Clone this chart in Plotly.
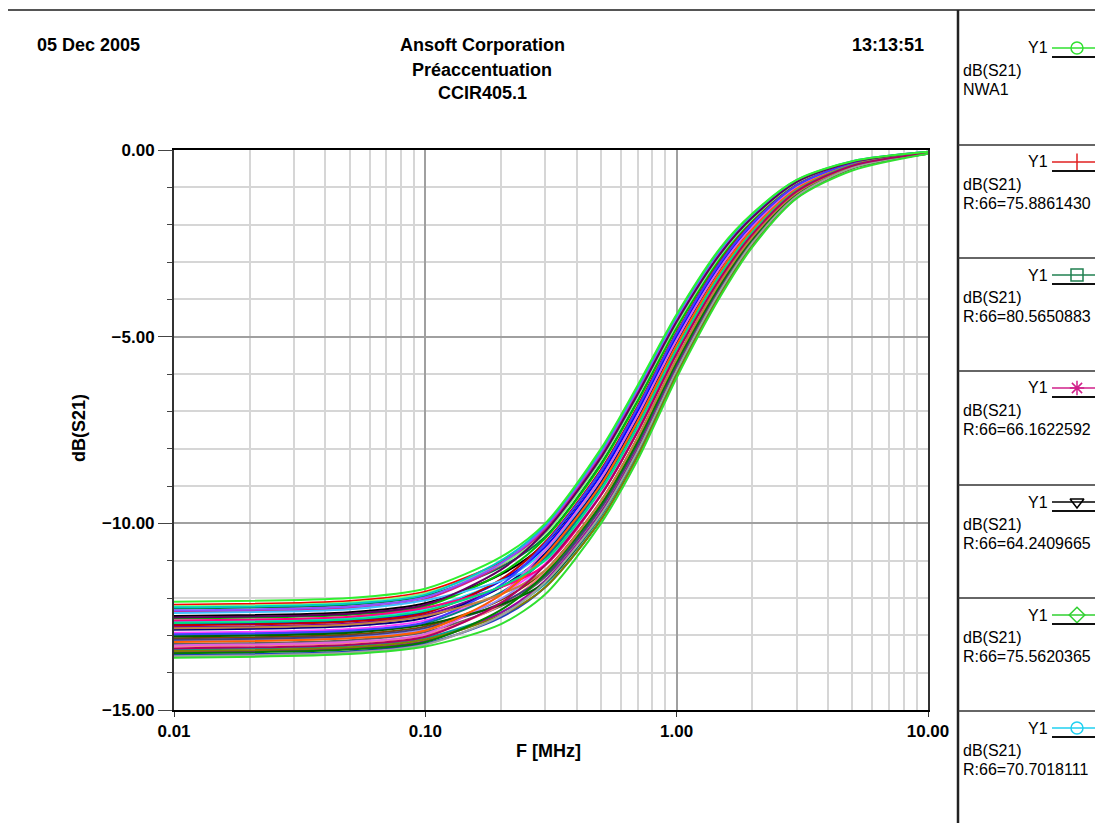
import plotly.graph_objects as go

W, H = 1103, 823
OFF = 8  # the page body margin shifts the figure by this many pixels

# frequency sample points (MHz) shared by every Monte Carlo run
freq_mhz = [0.01, 0.05, 0.1, 0.2, 0.3, 0.5, 0.7, 1.0, 1.5, 2.0, 3.0, 5.0, 10.0]

# dB(S21), one list per run
nwa1 = [-12.10, -12.00, -11.75, -10.90, -10.00, -8.00, -6.30, -4.40, -2.60, -1.70, -0.80, -0.30, -0.05]
run02 = [-13.60, -13.50, -13.30, -12.70, -11.90, -10.00, -8.30, -6.10, -3.90, -2.60, -1.30, -0.55, -0.10]
run03 = [-12.18, -12.08, -11.83, -11.03, -10.18, -8.20, -6.50, -4.57, -2.73, -1.79, -0.85, -0.32, -0.06]
run04 = [-12.28, -12.18, -11.94, -11.17, -10.36, -8.40, -6.70, -4.74, -2.86, -1.88, -0.90, -0.34, -0.06]
run05 = [-12.37, -12.27, -12.03, -11.12, -10.14, -8.16, -6.46, -4.54, -2.70, -1.77, -0.84, -0.32, -0.05]
run06 = [-12.48, -12.38, -12.14, -11.37, -10.54, -8.60, -6.90, -4.91, -2.99, -1.97, -0.95, -0.36, -0.07]
run07 = [-12.55, -12.45, -12.22, -11.34, -10.40, -8.44, -6.74, -4.77, -2.89, -1.90, -0.91, -0.34, -0.06]
run08 = [-12.63, -12.53, -12.29, -11.54, -10.72, -8.80, -7.10, -5.08, -3.12, -2.06, -1.00, -0.38, -0.07]
run09 = [-12.70, -12.60, -12.37, -11.54, -10.63, -8.70, -7.00, -5.00, -3.06, -2.02, -0.98, -0.37, -0.07]
run10 = [-12.78, -12.68, -12.45, -11.71, -10.90, -9.00, -7.30, -5.25, -3.25, -2.15, -1.05, -0.40, -0.08]
run11 = [-12.85, -12.75, -12.53, -11.71, -10.81, -8.90, -7.20, -5.17, -3.19, -2.11, -1.03, -0.39, -0.07]
run12 = [-12.93, -12.83, -12.60, -11.88, -11.08, -9.20, -7.50, -5.42, -3.38, -2.24, -1.10, -0.42, -0.08]
run13 = [-13.00, -12.90, -12.68, -11.85, -10.94, -9.04, -7.34, -5.28, -3.28, -2.17, -1.06, -0.40, -0.08]
run14 = [-13.08, -12.98, -12.76, -12.05, -11.26, -9.40, -7.70, -5.59, -3.51, -2.33, -1.15, -0.44, -0.09]
run15 = [-13.15, -13.05, -12.84, -12.02, -11.12, -9.24, -7.54, -5.45, -3.41, -2.26, -1.11, -0.42, -0.08]
run16 = [-13.23, -13.13, -12.91, -12.22, -11.44, -9.60, -7.90, -5.76, -3.64, -2.42, -1.20, -0.46, -0.09]
run17 = [-13.30, -13.20, -12.99, -12.19, -11.30, -9.44, -7.74, -5.62, -3.54, -2.35, -1.16, -0.44, -0.09]
run18 = [-13.38, -13.28, -13.07, -12.39, -11.62, -9.80, -8.10, -5.93, -3.77, -2.51, -1.25, -0.48, -0.10]
run19 = [-13.45, -13.35, -13.15, -12.39, -11.53, -9.70, -8.00, -5.85, -3.71, -2.47, -1.23, -0.47, -0.09]
run20 = [-13.53, -13.43, -13.22, -12.52, -11.71, -9.90, -8.20, -6.02, -3.84, -2.56, -1.28, -0.49, -0.10]
run21 = [-12.22, -12.12, -11.87, -11.10, -10.27, -8.30, -6.60, -4.66, -2.80, -1.84, -0.88, -0.33, -0.06]
run22 = [-12.73, -12.63, -12.40, -11.50, -10.50, -8.56, -6.86, -4.88, -2.96, -1.95, -0.94, -0.36, -0.06]
run23 = [-13.12, -13.02, -12.80, -12.14, -11.40, -9.56, -7.86, -5.73, -3.61, -2.40, -1.19, -0.46, -0.09]
run24 = [-13.42, -13.32, -13.11, -12.46, -11.71, -9.90, -8.20, -6.02, -3.84, -2.56, -1.28, -0.49, -0.10]
run25 = [-12.40, -12.30, -12.06, -11.54, -10.99, -9.10, -7.40, -5.34, -3.32, -2.20, -1.08, -0.41, -0.08]
run26 = [-13.27, -13.17, -12.96, -11.90, -10.72, -8.80, -7.10, -5.08, -3.12, -2.06, -1.00, -0.38, -0.07]
run27 = [-13.03, -12.93, -12.71, -12.18, -11.58, -9.76, -8.06, -5.90, -3.74, -2.49, -1.24, -0.48, -0.09]
run28 = [-12.33, -12.23, -11.98, -11.07, -10.09, -8.10, -6.40, -4.49, -2.67, -1.75, -0.83, -0.31, -0.05]
run29 = [-12.25, -12.15, -11.91, -11.00, -10.04, -8.04, -6.34, -4.43, -2.63, -1.72, -0.81, -0.30, -0.05]
run30 = [-12.60, -12.50, -12.26, -11.71, -11.12, -9.24, -7.54, -5.45, -3.41, -2.26, -1.11, -0.42, -0.08]
run31 = [-12.97, -12.87, -12.65, -11.65, -10.54, -8.60, -6.90, -4.91, -2.99, -1.97, -0.95, -0.36, -0.07]
run32 = [-13.48, -13.38, -13.18, -12.32, -11.35, -9.50, -7.80, -5.68, -3.58, -2.38, -1.18, -0.45, -0.09]
run33 = [-12.81, -12.71, -12.48, -11.90, -11.26, -9.40, -7.70, -5.59, -3.51, -2.33, -1.15, -0.44, -0.09]
run34 = [-13.18, -13.08, -12.87, -11.92, -10.86, -8.96, -7.26, -5.22, -3.22, -2.13, -1.04, -0.40, -0.07]
run35 = [-12.52, -12.42, -12.18, -11.24, -10.22, -8.24, -6.54, -4.60, -2.76, -1.81, -0.86, -0.32, -0.06]
run36 = [-13.56, -13.46, -13.25, -12.47, -11.58, -9.76, -8.06, -5.90, -3.74, -2.49, -1.24, -0.48, -0.09]
run37 = [-12.67, -12.57, -12.34, -11.69, -10.99, -9.10, -7.40, -5.34, -3.32, -2.20, -1.08, -0.41, -0.08]
run38 = [-13.35, -13.25, -13.04, -12.13, -11.12, -9.24, -7.54, -5.45, -3.41, -2.26, -1.11, -0.42, -0.08]

# the two green envelope runs go last so they sit on top, as in the picture
runs = [run03, run04, run05, run06, run07, run08, run09, run10, run11, run12,
        run13, run14, run15, run16, run17, run18, run19, run20, run21, run22,
        run23, run24, run25, run26, run27, run28, run29, run30, run31, run32,
        run33, run34, run35, run36, run37, run38, run02, nwa1]

run_colors = ["#ff0000", "#008040", "#d0208a", "#000000", "#00c000", "#20d8f0",
              "#0000ff", "#8000a0", "#000080", "#ff40ff", "#008080", "#804000",
              "#9090ff", "#606060", "#ff8080", "#00a0a0", "#a000a0", "#2040c0",
              "#80ff80", "#c00000", "#404080", "#808000", "#40c0ff", "#e060e0",
              "#006000", "#9050ff", "#00c8c8", "#ff0080", "#4040ff", "#008000",
              "#c08040", "#ff6000", "#600060", "#a0a0a0", "#00e080", "#b00060",
              "#30e030", "#30f030"]

# legend panel on the right (labels as far as the panel shows them)
legend_labels = ["NWA1", "R:66=75.8861430", "R:66=80.5650883", "R:66=66.1622592",
                 "R:66=64.2409665", "R:66=75.5620365", "R:66=70.7018111"]
legend_colors = ["#30e030", "#e02020", "#208050", "#d0208a", "#000000", "#30d030", "#20d0f0"]
legend_symbols = ["circle-open", "line-ns-open", "square-open", "asterisk-open",
                  "triangle-down-open", "diamond-open", "circle-open"]

x_ticks = [0.01, 0.1, 1, 10]
x_ticktext = ["0.01", "0.10", "1.00", "10.00"]
x_minor = [0.02, 0.03, 0.04, 0.05, 0.06, 0.07, 0.08, 0.09,
           0.2, 0.3, 0.4, 0.5, 0.6, 0.7, 0.8, 0.9,
           2, 3, 4, 5, 6, 7, 8, 9]


def px(x):
    return (x - OFF) / W


def py(y):
    return 1 - (y - OFF) / H


SANS = "Liberation Sans, Arial"

fig = go.Figure()

for vals, col in zip(runs, run_colors):
    fig.add_trace(go.Scatter(
        x=freq_mhz, y=vals, mode="lines",
        line=dict(color=col, width=2, shape="spline", smoothing=0.8),
        showlegend=False, hoverinfo="skip",
    ))

# legend glyphs drawn on an overlay axis in window pixel units
rows_y = [48, 162, 275, 388, 502, 615, 728]
for row, col, sym in zip(rows_y, legend_colors, legend_symbols):
    fig.add_trace(go.Scatter(
        x=[1052, 1077, 1110], y=[row, row, row], mode="lines",
        line=dict(color=col, width=1.5), xaxis="x2", yaxis="y2",
        showlegend=False, hoverinfo="skip",
    ))
    fig.add_trace(go.Scatter(
        x=[1077], y=[row], mode="markers",
        marker=dict(symbol=sym, size=12, color=col, line=dict(color=col, width=1.5)),
        xaxis="x2", yaxis="y2", showlegend=False, hoverinfo="skip",
    ))

shapes = [
    dict(type="line", xref="paper", yref="paper", x0=0, x1=1, y0=py(10), y1=py(10),
         line=dict(color="#555555", width=2)),
    dict(type="line", xref="paper", yref="paper", x0=px(958), x1=px(958), y0=py(10), y1=0,
         line=dict(color="#222222", width=2.5)),
]
for sep in [145, 258, 371, 485, 598, 711]:
    shapes.append(dict(type="line", xref="paper", yref="paper", x0=px(958), x1=1,
                       y0=py(sep), y1=py(sep), line=dict(color="#333333", width=1.5)))
for row in rows_y:
    shapes.append(dict(type="line", xref="paper", yref="paper", x0=px(1052), x1=1,
                       y0=py(row + 9), y1=py(row + 9), line=dict(color="#111111", width=2)))

annotations = [
    dict(text="<b>05 Dec 2005</b>", x=px(35), y=py(45), xanchor="left"),
    dict(text="<b>Ansoft Corporation</b>", x=px(482), y=py(45), xanchor="center"),
    dict(text="<b>Préaccentuation</b>", x=px(482), y=py(70), xanchor="center"),
    dict(text="<b>CCIR405.1</b>", x=px(482), y=py(93), xanchor="center"),
    dict(text="<b>13:13:51</b>", x=px(926), y=py(45), xanchor="right"),
    dict(text="<b>F [MHz]</b>", x=px(548), y=py(751), xanchor="center"),
    dict(text="<b>dB(S21)</b>", x=px(79), y=py(428), xanchor="center", textangle=-90),
]
for a in annotations:
    a.update(xref="paper", yref="paper", yanchor="middle", showarrow=False,
             font=dict(family=SANS, size=18, color="#000000"))

for row, label in zip(rows_y, legend_labels):
    for txt, xx, yy, anc in [("Y1", 1050, row, "right"),
                             ("dB(S21)", 961, row + 22, "left"),
                             (label, 961, row + 41, "left")]:
        annotations.append(dict(text=txt, x=px(xx), y=py(yy), xref="paper", yref="paper",
                                xanchor=anc, yanchor="middle", showarrow=False,
                                font=dict(family=SANS, size=16, color="#000000")))

fig.update_layout(
    width=W, height=H,
    margin=dict(l=0, r=0, t=0, b=0, pad=0, autoexpand=False),
    paper_bgcolor="white",
    plot_bgcolor="rgba(0,0,0,0)",
    showlegend=False,
    shapes=shapes,
    annotations=annotations,
    xaxis=dict(
        type="log", range=[-2, 1], domain=[px(174), px(928)],
        tickvals=x_ticks, ticktext=x_ticktext,
        tickfont=dict(family=SANS, size=17, color="#000000", weight="bold"),
        ticks="outside", ticklen=5, tickcolor="#333333",
        showgrid=True, gridcolor="#a0a0a0", gridwidth=2,
        minor=dict(tickvals=x_minor, showgrid=True, gridcolor="#d6d6d6", gridwidth=2,
                   ticks=""),
        showline=True, linecolor="#000000", linewidth=2, mirror=True,
        zeroline=False, fixedrange=True,
    ),
    yaxis=dict(
        range=[-15, 0], domain=[py(710), py(150)],
        tickvals=[0, -5, -10, -15], tickformat=".2f",
        tickfont=dict(family=SANS, size=17, color="#000000", weight="bold"),
        ticks="outside", ticklen=14, tickcolor="#444444",
        showgrid=True, gridcolor="#a0a0a0", gridwidth=2,
        minor=dict(dtick=1, showgrid=True, gridcolor="#d6d6d6", gridwidth=2,
                   ticks="outside", ticklen=5, tickcolor="#444444"),
        showline=True, linecolor="#333333", linewidth=2, mirror=True,
        zeroline=False, fixedrange=True,
    ),
    xaxis2=dict(domain=[0, 1], range=[OFF, W + OFF], visible=False, anchor="y2",
                fixedrange=True),
    yaxis2=dict(domain=[0, 1], range=[H + OFF, OFF], visible=False, anchor="x2",
                fixedrange=True),
)

fig.write_html("out.html")
